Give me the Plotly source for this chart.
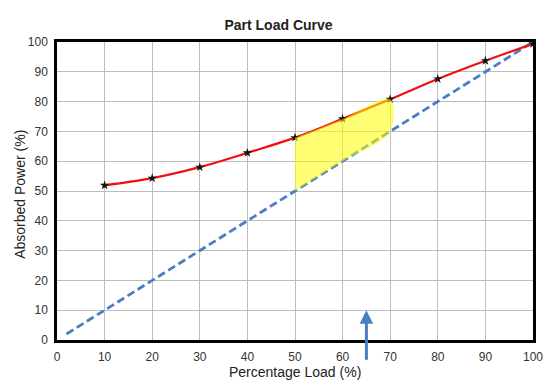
import plotly.graph_objects as go

load = [10, 20, 30, 40, 50, 60, 70, 80, 90, 100]
power = [51.9, 54.3, 58.0, 62.8, 67.9, 74.2, 80.8, 87.6, 93.7, 99.4]
ideal_x = [2, 100]
ideal_y = [2, 100]
band_lo, band_hi = 50, 70
arrow_x, arrow_y = 65, 10
ticks = [0, 10, 20, 30, 40, 50, 60, 70, 80, 90, 100]

fig = go.Figure()

fig.add_trace(go.Scatter(x=ideal_x, y=ideal_y, mode="lines",
                         line=dict(color="#4a7ec4", width=2.8, dash="8px,4px"),
                         hoverinfo="skip"))
fig.add_trace(go.Scatter(x=load, y=power, mode="lines+markers",
                         line=dict(color="#ee1111", width=2.2, shape="spline"),
                         marker=dict(symbol="star", size=7, color="#111111"),
                         hoverinfo="skip"))

# highlighted band between the curve and the ideal line
bx = [x for x in load if band_lo <= x <= band_hi]
by = [p for x, p in zip(load, power) if band_lo <= x <= band_hi]
poly_x = bx + bx[::-1]
poly_y = by + bx[::-1]
fig.add_trace(go.Scatter(x=poly_x, y=poly_y, mode="lines", fill="toself",
                         fillcolor="rgba(255,255,0,0.55)",
                         line=dict(width=0, color="rgba(0,0,0,0)", shape="spline"),
                         hoverinfo="skip"))

fig.add_annotation(x=arrow_x, y=arrow_y, xref="x", yref="y", ax=0, ay=51,
                   axref="pixel", ayref="pixel", text="", showarrow=True,
                   arrowhead=2, arrowsize=0.9, arrowwidth=3, arrowcolor="#4a7ec4")

# axis titles placed as annotations for exact positioning
title_font = dict(family="Arial", size=14, color="#222222")
fig.add_annotation(x=0.5, y=-32 / 298, xref="paper", yref="paper",
                   text="Percentage Load (%)", showarrow=False,
                   xanchor="center", yanchor="middle", font=title_font)
fig.add_annotation(x=-37 / 476, y=0.487, xref="paper", yref="paper",
                   text="Absorbed Power (%)", showarrow=False, textangle=-90,
                   xanchor="center", yanchor="middle", font=title_font)

axis_common = dict(range=[0, 100], tickvals=ticks, showgrid=True,
                   gridcolor="#bdbdbd", gridwidth=1, zeroline=False,
                   showline=True, linecolor="black", linewidth=2.5, mirror=True,
                   ticks="outside", ticklen=4, tickcolor="rgba(0,0,0,0)",
                   automargin=False,
                   tickfont=dict(family="Arial", size=12, color="#333333"))

fig.update_layout(
    width=557, height=388,
    margin=dict(l=57, r=24, t=42, b=48),
    paper_bgcolor="white", plot_bgcolor="white",
    showlegend=False,
    title=dict(text="<b>Part Load Curve</b>", x=0.5, xanchor="center",
               y=1 - 25 / 388, yanchor="middle",
               font=dict(family="Arial", size=14, color="#222222")),
    xaxis=axis_common,
    yaxis=axis_common,
)

fig.write_html("out.html", config={"displayModeBar": False},
               post_script="document.body.style.margin='0';document.body.style.overflow='hidden';")
